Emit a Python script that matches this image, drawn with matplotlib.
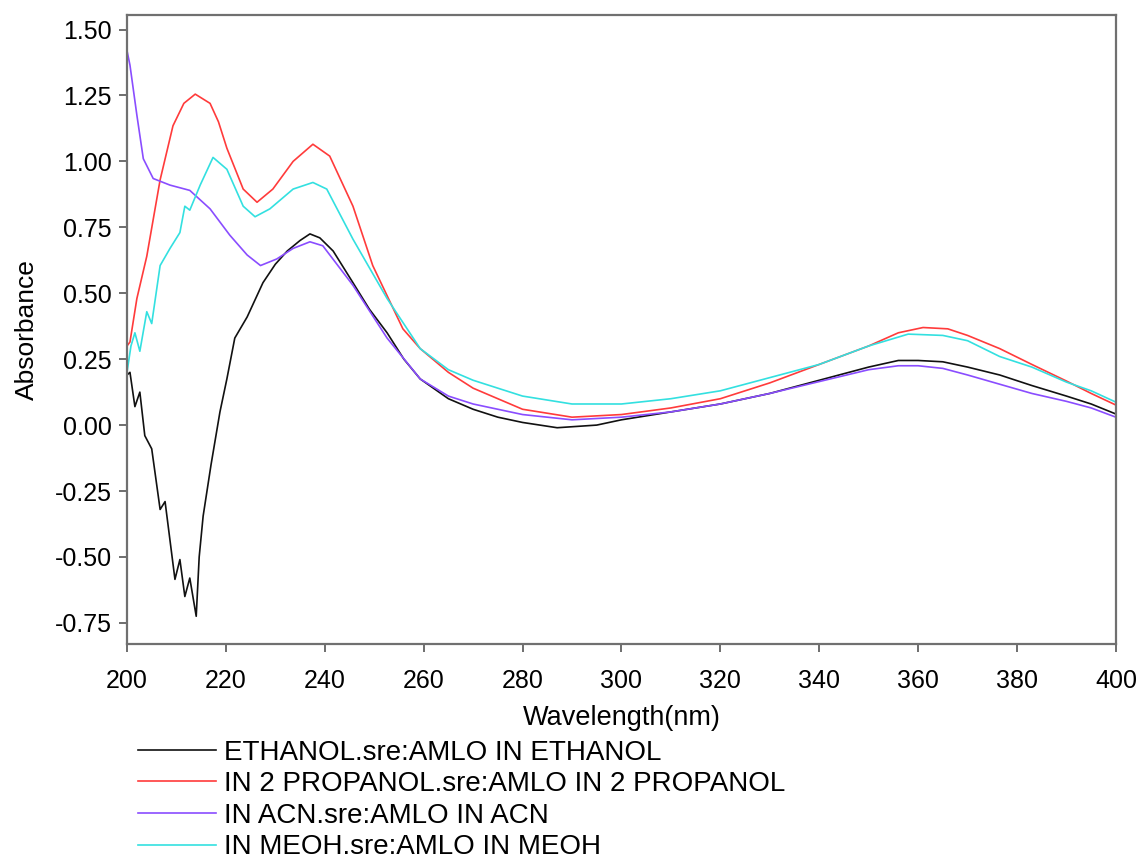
import matplotlib
matplotlib.use('Agg')
import matplotlib.pyplot as plt

plt.rcParams['font.family'] = ['Liberation Sans', 'DejaVu Sans']

# ETHANOL
eth_x = [200, 200.6, 201.6, 202.6, 203.6, 205, 206.7, 207.7, 209.7, 210.7, 211.7, 212.7, 214, 214.6,
         215.4, 217, 218.8, 220.2, 221.8, 224.3, 227.5, 230, 232.4, 235, 237, 239, 241.7, 245.7, 249,
         252.6, 256, 259.3, 265, 270, 275, 280, 287, 295, 300, 310, 320, 330, 340, 350, 356, 360, 365,
         370, 376.5, 383, 390, 395, 400]
eth_y = [0.19, 0.2, 0.07, 0.125, -0.04, -0.09, -0.32, -0.29, -0.585, -0.51, -0.65, -0.58, -0.725, -0.50,
         -0.345, -0.15, 0.05, 0.175, 0.33, 0.41, 0.54, 0.61, 0.66, 0.70, 0.725, 0.71, 0.66, 0.54, 0.44,
         0.35, 0.25, 0.175, 0.10, 0.06, 0.03, 0.01, -0.01, 0.0, 0.02, 0.05, 0.08, 0.12, 0.17, 0.22, 0.245,
         0.245, 0.24, 0.22, 0.19, 0.15, 0.11, 0.08, 0.042]

# 2 PROPANOL
prop_x = [200, 200.6, 202, 204, 206.7, 209.3, 211.5, 213.8, 216.8, 218.5, 220.2, 223.5, 226.3, 229.5,
          233.6, 237.6, 241, 245.7, 249.7, 255.8, 259.3, 265, 270, 280, 290, 300, 310, 320, 330, 340,
          350, 356, 361, 366, 370, 376.5, 383, 390, 395, 400]
prop_y = [0.30, 0.315, 0.48, 0.64, 0.93, 1.135, 1.22, 1.255, 1.22, 1.15, 1.05, 0.895, 0.845, 0.895,
          1.0, 1.065, 1.02, 0.83, 0.605, 0.365, 0.29, 0.2, 0.14, 0.06, 0.03, 0.04, 0.065, 0.10, 0.16, 0.23,
          0.30, 0.35, 0.37, 0.365, 0.34, 0.29, 0.23, 0.167, 0.12, 0.076]

# ACN
acn_x = [200, 200.6, 202, 203.3, 205.3, 208.7, 212.7, 216.8, 220.8, 224.3, 227, 230.3, 233.6, 237,
         239.6, 245.7, 252.6, 259.3, 265, 270, 280, 290, 300, 310, 320, 330, 340, 350, 356, 360, 365,
         370, 376.5, 383, 390, 395, 400]
acn_y = [1.42, 1.365, 1.175, 1.01, 0.935, 0.91, 0.89, 0.82, 0.72, 0.645, 0.605, 0.63, 0.67, 0.695,
         0.68, 0.53, 0.33, 0.175, 0.11, 0.08, 0.04, 0.02, 0.03, 0.05, 0.08, 0.12, 0.165, 0.21, 0.225,
         0.225, 0.215, 0.19, 0.155, 0.12, 0.09, 0.065, 0.03]

# MEOH
meoh_x = [200, 200.8, 201.6, 202.6, 204, 205, 206.7, 208.7, 210.7, 211.7, 212.7, 214.8, 217.4, 220.2,
          223.5, 225.9, 228.9, 233.6, 237.6, 240.4, 245.7, 252.6, 259.3, 265, 270, 280, 290, 300, 310,
          320, 330, 340, 350, 358, 365, 370, 376.5, 383, 390, 395, 400]
meoh_y = [0.2, 0.3, 0.35, 0.28, 0.43, 0.385, 0.605, 0.67, 0.73, 0.83, 0.815, 0.91, 1.015, 0.97,
          0.83, 0.79, 0.82, 0.895, 0.92, 0.895, 0.705, 0.48, 0.29, 0.21, 0.17, 0.11, 0.08, 0.08, 0.10,
          0.13, 0.18, 0.23, 0.30, 0.345, 0.34, 0.32, 0.26, 0.22, 0.163, 0.13, 0.087]

labels = ['ETHANOL.sre:AMLO IN ETHANOL',
          'IN 2 PROPANOL.sre:AMLO IN 2 PROPANOL',
          'IN ACN.sre:AMLO IN ACN',
          'IN MEOH.sre:AMLO IN MEOH']
yticks = [-0.75, -0.5, -0.25, 0, 0.25, 0.5, 0.75, 1.0, 1.25, 1.5]

fig = plt.figure(figsize=(11.41, 8.63), dpi=100)
ax = fig.add_axes([0.1113, 0.2538, 0.8667, 0.7288])

ax.plot(eth_x, eth_y, color='#111111', lw=1.2, label=labels[0])
ax.plot(prop_x, prop_y, color='#ff3b3b', lw=1.2, label=labels[1])
ax.plot(acn_x, acn_y, color='#8a4dff', lw=1.2, label=labels[2])
ax.plot(meoh_x, meoh_y, color='#33e0e0', lw=1.2, label=labels[3])

ax.set_xlim(200, 400)
ax.set_ylim(-0.83, 1.555)
ax.set_xticks(range(200, 401, 20))
ax.set_yticks(yticks)
ax.set_yticklabels(['%.2f' % v for v in yticks])
ax.tick_params(direction='out', length=6, width=1.2, color='#555555', labelsize=18)
ax.tick_params(axis='y', pad=5)
ax.tick_params(axis='x', pad=12)

for s in ax.spines.values():
    s.set_color('#707070')
    s.set_linewidth(1.6)

ax.set_xlabel('Wavelength(nm)', fontsize=19.5, va='center')
ax.xaxis.set_label_coords(0.5, -0.118)
ax.set_ylabel('Absorbance', fontsize=19, va='center')
ax.yaxis.set_label_coords(-0.101, 0.5)

fig.legend(loc='upper left', bbox_to_anchor=(0.121, 0.143), frameon=False, fontsize=20,
           handlelength=2.8, handletextpad=0.3, labelspacing=0.2, borderpad=0, borderaxespad=0)

plt.savefig('out.png', dpi=100)
